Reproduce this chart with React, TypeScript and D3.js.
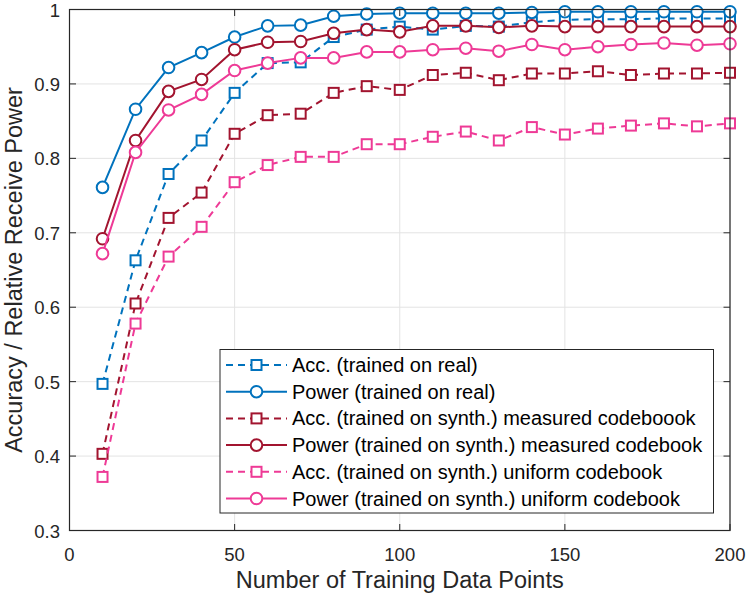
import React from "react";
import * as d3 from "d3";

const xs = [10, 20, 30, 40, 50, 60, 70, 80, 90, 100, 110, 120, 130, 140, 150, 160, 170, 180, 190, 200];

const accReal = [0.497, 0.663, 0.779, 0.824, 0.888, 0.928, 0.929, 0.963, 0.973, 0.977, 0.973, 0.978, 0.977, 0.983, 0.986, 0.987, 0.987, 0.988, 0.988, 0.988];
const powReal = [0.761, 0.866, 0.922, 0.942, 0.963, 0.978, 0.979, 0.991, 0.994, 0.995, 0.995, 0.995, 0.995, 0.996, 0.997, 0.997, 0.997, 0.997, 0.997, 0.997];
const accMeas = [0.403, 0.605, 0.720, 0.754, 0.833, 0.858, 0.860, 0.888, 0.897, 0.892, 0.912, 0.915, 0.905, 0.914, 0.914, 0.917, 0.912, 0.914, 0.914, 0.915];
const powMeas = [0.692, 0.824, 0.890, 0.906, 0.946, 0.956, 0.957, 0.968, 0.973, 0.970, 0.978, 0.978, 0.976, 0.978, 0.977, 0.977, 0.977, 0.977, 0.977, 0.977];
const accUni = [0.372, 0.578, 0.668, 0.708, 0.768, 0.791, 0.802, 0.802, 0.819, 0.819, 0.829, 0.836, 0.824, 0.842, 0.832, 0.840, 0.844, 0.847, 0.843, 0.847];
const powUni = [0.672, 0.808, 0.865, 0.886, 0.918, 0.928, 0.935, 0.935, 0.943, 0.943, 0.946, 0.948, 0.944, 0.953, 0.946, 0.950, 0.953, 0.955, 0.952, 0.954];

const seriesNames = [
  "Acc. (trained on real)",
  "Power (trained on real)",
  "Acc. (trained on synth.) measured codeboook",
  "Power (trained on synth.) measured codebook",
  "Acc. (trained on synth.) uniform codebook",
  "Power (trained on synth.) uniform codebook",
];
const seriesValues = [accReal, powReal, accMeas, powMeas, accUni, powUni];
const seriesColors = ["#0072BD", "#0072BD", "#A2142F", "#A2142F", "#EE3A96", "#EE3A96"];
const seriesDashed = [true, false, true, false, true, false];
const seriesMarker = ["square", "circle", "square", "circle", "square", "circle"];

const xTicks = [0, 50, 100, 150, 200];
const yTicks = [0.3, 0.4, 0.5, 0.6, 0.7, 0.8, 0.9, 1];

const FONT = "Liberation Sans, Arial, Helvetica, sans-serif";

function Marker({ type, x, y, color }: { type: string; x: number; y: number; color: string }) {
  if (type === "square") {
    const s = 10;
    return <rect x={x - s / 2} y={y - s / 2} width={s} height={s} fill="white" stroke={color} strokeWidth={2} />;
  }
  return <circle cx={x} cy={y} r={5.8} fill="white" stroke={color} strokeWidth={2} />;
}

export default function App() {
  const W = 747, H = 600;
  const L = 69.5, R = 730, T = 9.5, B = 530.5;
  const x = d3.scaleLinear().domain([0, 200]).range([L, R]);
  const y = d3.scaleLinear().domain([0.3, 1]).range([B, T]);
  const line = d3.line<number>().x((_, i) => x(xs[i])).y((d) => y(d));
  const tk = 6.5;

  const legX = 220, legY = 349.5, legW = 493.5, legH = 163.5;
  const rowY0 = 365, rowDy = 26.7;

  return (
    <svg width={W} height={H} style={{ position: "absolute", left: 0, top: 0, background: "white" }} fontFamily={FONT}>
      <rect x={0} y={0} width={W} height={H} fill="white" />
      {xTicks.map((t) => (
        <line key={"gx" + t} x1={x(t)} x2={x(t)} y1={T} y2={B} stroke="#e3e3e3" strokeWidth={1} />
      ))}
      {yTicks.map((t) => (
        <line key={"gy" + t} x1={L} x2={R} y1={y(t)} y2={y(t)} stroke="#e3e3e3" strokeWidth={1} />
      ))}
      {seriesValues.map((vals, si) => (
        <g key={"s" + si}>
          <path d={line(vals) || ""} fill="none" stroke={seriesColors[si]} strokeWidth={2}
            strokeDasharray={seriesDashed[si] ? "7,5" : undefined} />
          {vals.map((v, i) => (
            <Marker key={i} type={seriesMarker[si]} x={x(xs[i])} y={y(v)} color={seriesColors[si]} />
          ))}
        </g>
      ))}
      <rect x={L} y={T} width={R - L} height={B - T} fill="none" stroke="#262626" strokeWidth={1.2} />
      {xTicks.map((t) => (
        <g key={"tx" + t}>
          <line x1={x(t)} x2={x(t)} y1={B} y2={B - tk} stroke="#262626" />
          <line x1={x(t)} x2={x(t)} y1={T} y2={T + tk} stroke="#262626" />
          <text x={x(t)} y={561} fontSize={18.5} textAnchor="middle" fill="#262626">{t}</text>
        </g>
      ))}
      {yTicks.map((t) => (
        <g key={"ty" + t}>
          <line x1={L} x2={L + tk} y1={y(t)} y2={y(t)} stroke="#262626" />
          <line x1={R} x2={R - tk} y1={y(t)} y2={y(t)} stroke="#262626" />
          <text x={60} y={y(t) + 7} fontSize={18.5} textAnchor="end" fill="#262626">{t === 1 ? "1" : t.toFixed(1)}</text>
        </g>
      ))}
      <text x={(L + R) / 2} y={588} fontSize={23.5} textAnchor="middle" fill="#262626">Number of Training Data Points</text>
      <text transform={`translate(22,${(T + B) / 2}) rotate(-90)`} fontSize={23.5} textAnchor="middle" fill="#262626">
        Accuracy / Relative Receive Power
      </text>
      <rect x={legX} y={legY} width={legW} height={legH} fill="white" stroke="#262626" strokeWidth={1} />
      {seriesNames.map((name, si) => {
        const ry = rowY0 + si * rowDy;
        return (
          <g key={"l" + si}>
            <line x1={226} x2={287} y1={ry} y2={ry} stroke={seriesColors[si]} strokeWidth={2}
              strokeDasharray={seriesDashed[si] ? "7,5" : undefined} />
            <Marker type={seriesMarker[si]} x={256.5} y={ry} color={seriesColors[si]} />
            <text x={292} y={ry + 7} fontSize={20} fill="black">{name}</text>
          </g>
        );
      })}
    </svg>
  );
}
